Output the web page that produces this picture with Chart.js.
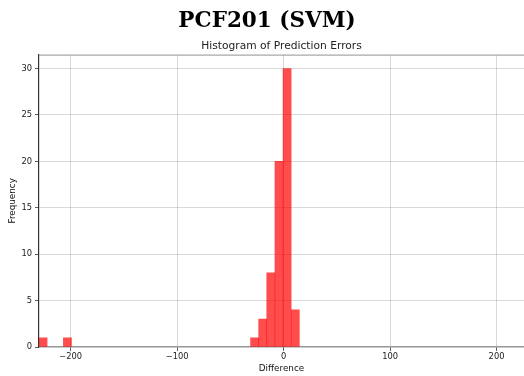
<!DOCTYPE html>
<html>
<head>
<meta charset="utf-8">
<script src="https://cdn.jsdelivr.net/npm/chart.js@4.4.1/dist/chart.umd.min.js"></script>
<style>
  html, body { margin: 0; padding: 0; background: #ffffff; }
  #wrap { width: 524px; height: 376px; }
</style>
</head>
<body>
<div id="wrap"><canvas id="c" width="524" height="376"></canvas></div>
<script>
// ---- data ----
const chartTitle = "PCF201 (SVM)";
const chartSubtitle = "Histogram of Prediction Errors";
const xLabel = "Difference";
const yLabel = "Frequency";

// histogram bin centres (bin width ~7.64)
const binCenters = [
  -225.9, -218.2, -210.6, -203.0, -195.3, -187.7, -180.0, -172.4,
  -164.8, -157.1, -149.5, -141.9, -134.2, -126.6, -118.9, -111.3,
  -103.6, -96.0, -88.4, -80.7, -73.1, -65.5, -57.8, -50.2,
  -42.5, -34.9, -27.2, -19.6, -12.0, -4.3, 3.3, 11.0
];
const counts = [
  1, 0, 0, 1, 0, 0, 0, 0,
  0, 0, 0, 0, 0, 0, 0, 0,
  0, 0, 0, 0, 0, 0, 0, 0,
  0, 0, 1, 3, 8, 20, 30, 4
];
const xTickValues = [-200, -100, 0, 100, 200];
const yTickValues = [0, 5, 10, 15, 20, 25, 30];
const xRange = [-229.7, 225.8];
const yRange = [0, 31.5];

// empty bins are kept (so the bar width equals the bin width) but not drawn
const points = binCenters.map((x, i) => ({ x: x, y: counts[i] === 0 ? null : counts[i] }));

const topSpine = {
  id: 'topSpine',
  afterDraw(chart) {
    const { ctx, chartArea } = chart;
    ctx.save();
    ctx.strokeStyle = '#a8a8a8';
    ctx.lineWidth = 1.2;
    ctx.beginPath();
    ctx.moveTo(chartArea.left, chartArea.top + 0.5);
    ctx.lineTo(chartArea.right, chartArea.top + 0.5);
    ctx.stroke();
    ctx.restore();
  }
};

const fmt = v => String(v).replace('-', '\u2212');

new Chart(document.getElementById('c'), {
  type: 'bar',
  data: {
    datasets: [{
      data: points,
      backgroundColor: 'rgba(255,0,0,0.7)',
      borderWidth: 0,
      barPercentage: 1.0,
      categoryPercentage: 1.0
    }]
  },
  options: {
    responsive: false,
    animation: false,
    layout: { padding: { top: 0, left: 10, right: 0, bottom: 0 } },
    plugins: {
      legend: { display: false },
      tooltip: { enabled: false },
      title: {
        display: true,
        text: chartTitle,
        color: '#000000',
        font: { family: 'DejaVu Serif', size: 21.5, weight: 'bold', lineHeight: 1.2 },
        padding: { top: 8.3, bottom: 0 }
      },
      subtitle: {
        display: true,
        text: chartSubtitle,
        fullSize: false,
        color: '#222222',
        font: { family: 'DejaVu Sans', size: 10.7, lineHeight: 1.2 },
        padding: { top: 5.7, bottom: 2 }
      }
    },
    scales: {
      x: {
        type: 'linear',
        offset: false,
        z: 1,
        min: xRange[0],
        max: xRange[1],
        afterBuildTicks: s => { s.ticks = xTickValues.map(v => ({ value: v })); },
        afterFit: s => { s.height = 29; },
        ticks: {
          color: '#222222',
          font: { family: 'DejaVu Sans', size: 8.3 },
          padding: 1,
          maxRotation: 0,
          autoSkip: false,
          callback: v => fmt(v)
        },
        grid: {
          offset: false,
          color: 'rgba(128,128,128,0.3)',
          lineWidth: 1,
          tickColor: '#333333',
          tickLength: 4,
          tickWidth: 0.8
        },
        border: { display: true, color: '#999999', width: 1.2 },
        title: {
          display: true,
          text: xLabel,
          color: '#111111',
          font: { family: 'DejaVu Sans', size: 8.8, lineHeight: 1.2 },
          padding: { top: 0, bottom: 1.7 }
        }
      },
      y: {
        z: 1,
        min: yRange[0],
        max: yRange[1],
        afterBuildTicks: s => { s.ticks = yTickValues.map(v => ({ value: v })); },
        afterFit: s => { s.width = 29; },
        ticks: {
          color: '#222222',
          font: { family: 'DejaVu Sans', size: 8.3 },
          padding: 3,
          autoSkip: false,
          callback: v => fmt(v)
        },
        grid: {
          color: 'rgba(128,128,128,0.3)',
          lineWidth: 1,
          tickColor: '#333333',
          tickLength: 4,
          tickWidth: 0.8
        },
        border: { display: true, color: '#333333', width: 1.2 },
        title: {
          display: true,
          text: yLabel,
          color: '#111111',
          font: { family: 'DejaVu Sans', size: 8.8, lineHeight: 1.2 },
          padding: { top: -2.3, bottom: 0 }
        }
      }
    }
  },
  plugins: [topSpine]
});
</script>
</body>
</html>
